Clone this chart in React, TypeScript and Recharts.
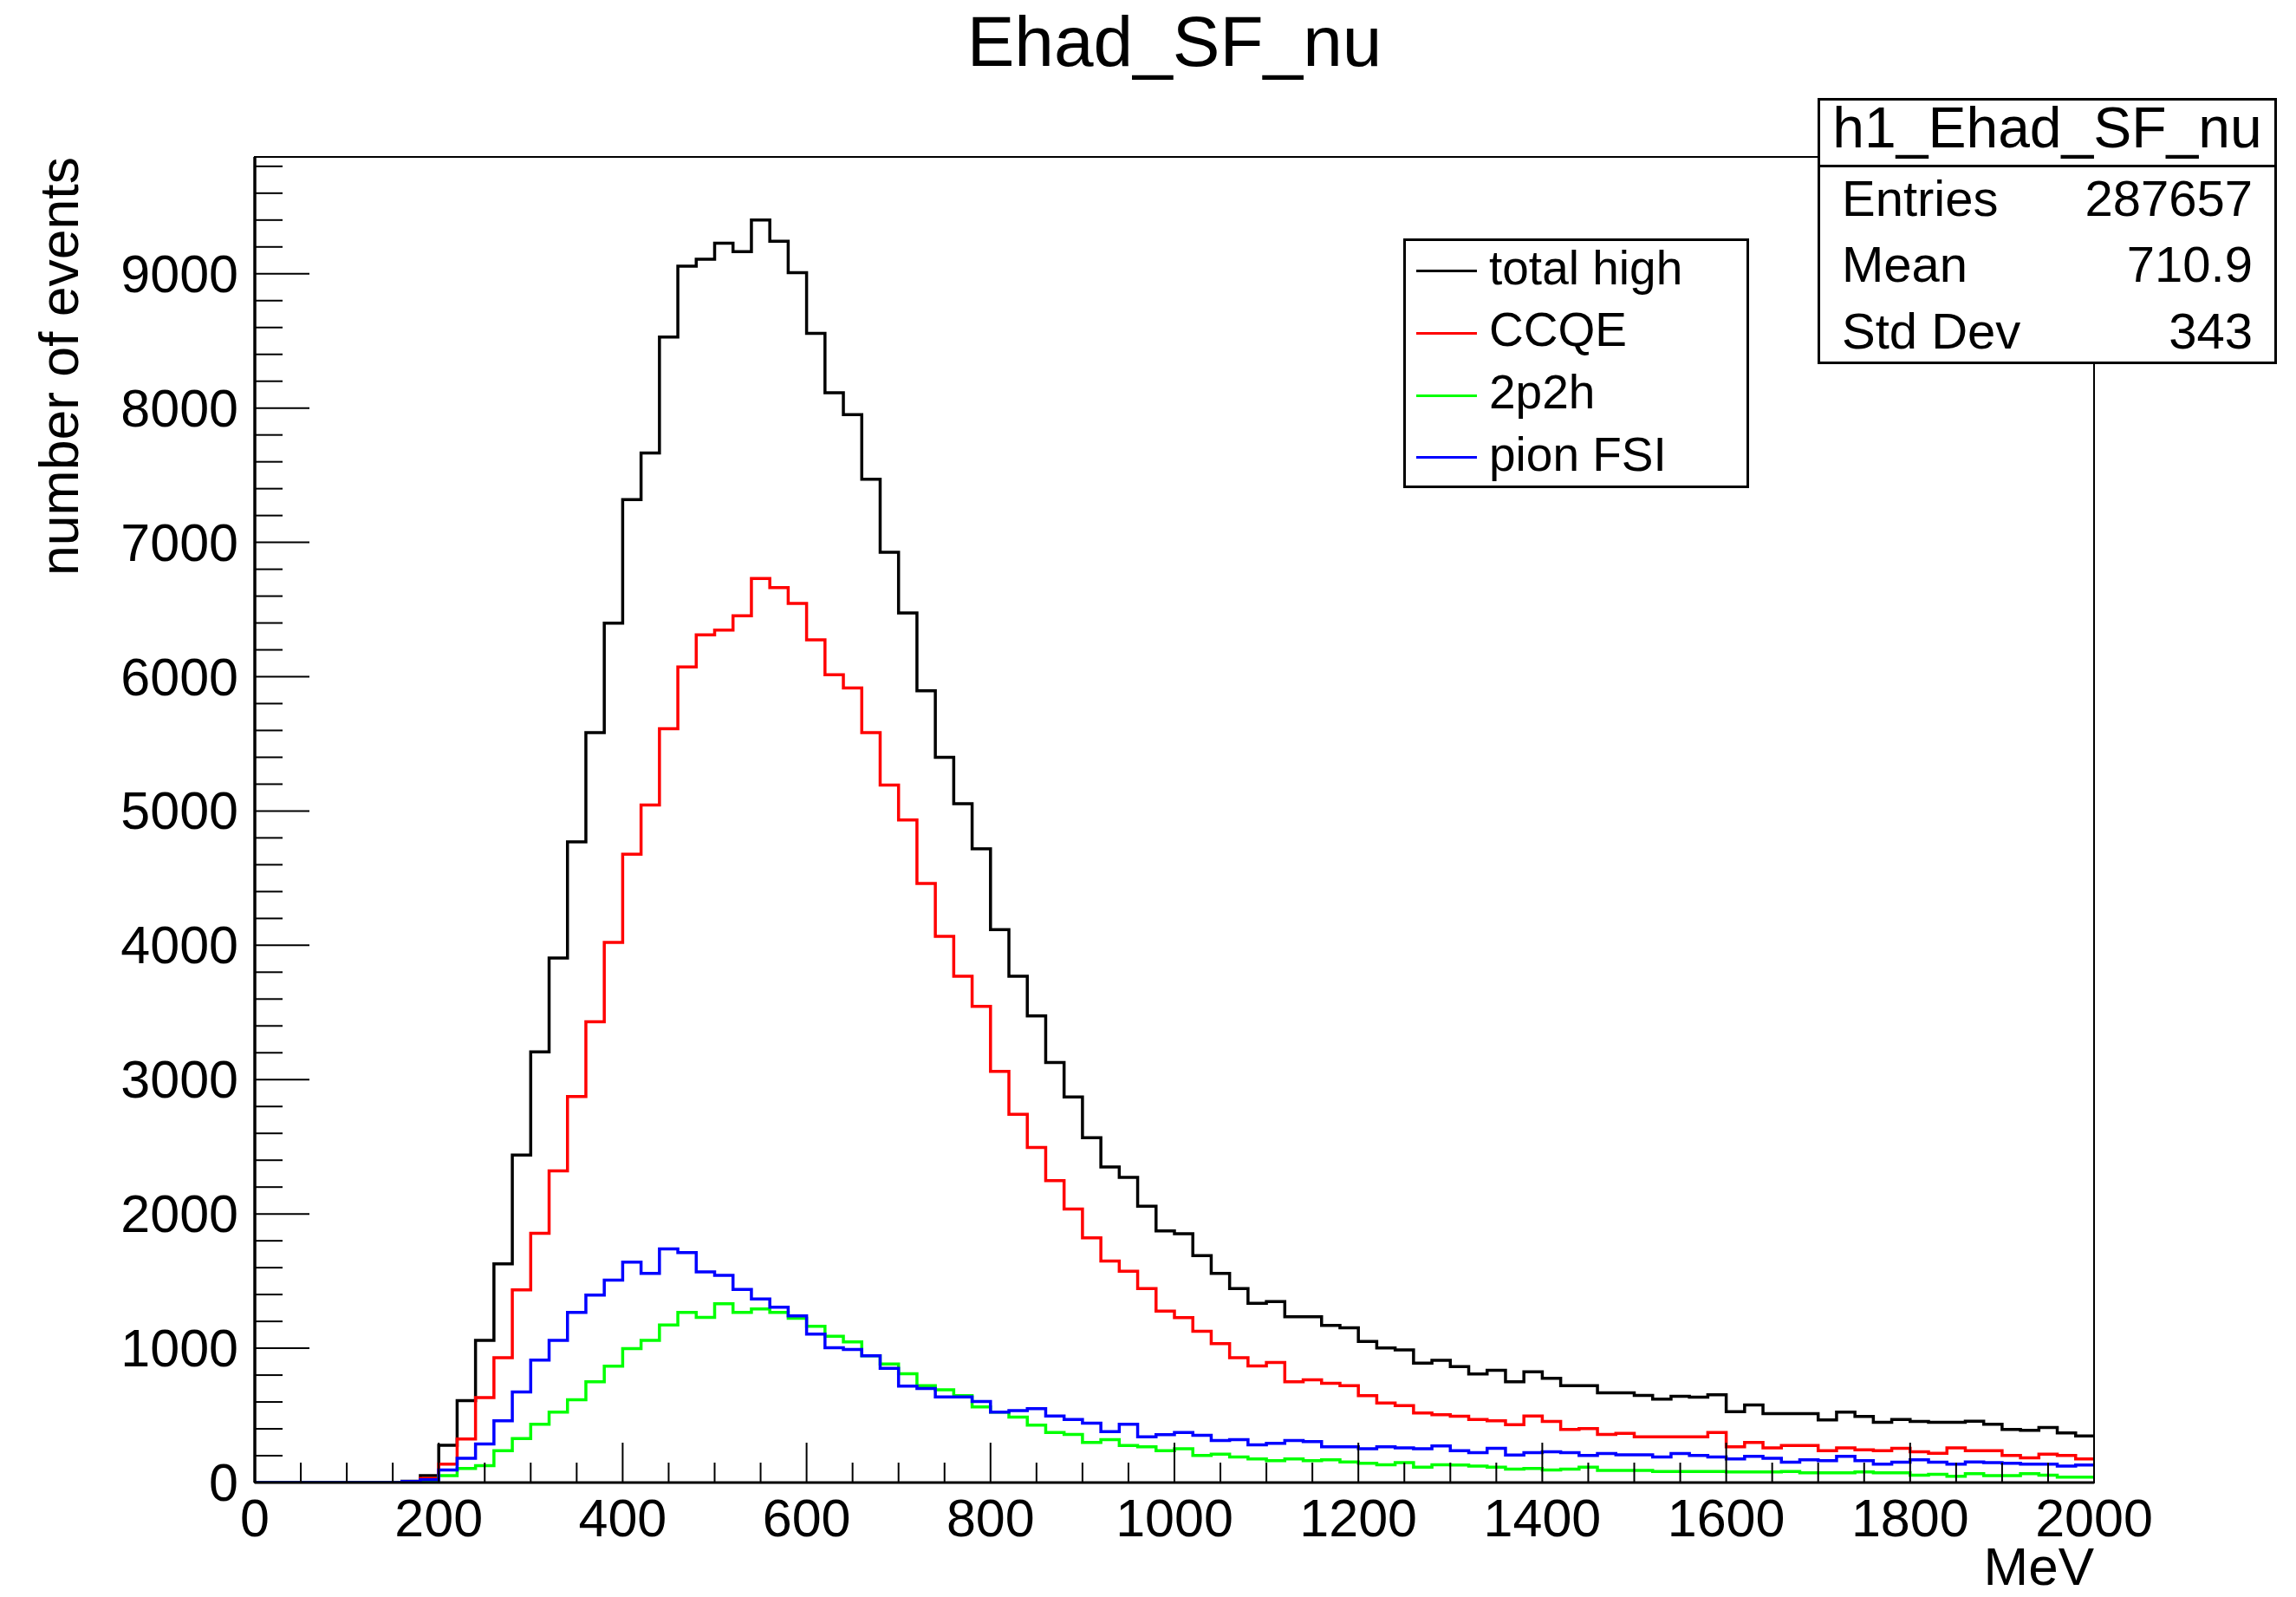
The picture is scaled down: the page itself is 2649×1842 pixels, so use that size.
import React from 'react';
import { LineChart, Line, XAxis, YAxis, Legend, ReferenceArea } from 'recharts';

const FONT = '"Liberation Sans", Arial, Helvetica, sans-serif';

// Histogram: 100 bins of 20 MeV from 0 to 2000 MeV (values per bin)
const totalHigh = [
  0, 0, 0, 0, 0, 0, 0, 0, 10, 51,
  277, 610, 1058, 1628, 2439, 3206, 3906, 4771, 5584, 6399,
  7318, 7666, 8529, 9056, 9108, 9228, 9164, 9401, 9243, 9009,
  8557, 8114, 7952, 7470, 6926, 6474, 5895, 5400, 5055, 4718,
  4116, 3770, 3474, 3128, 2871, 2568, 2350, 2272, 2058, 1874,
  1852, 1690, 1557, 1445, 1335, 1348, 1234, 1234, 1170, 1152,
  1051, 1002, 987, 890, 910, 863, 809, 836, 750, 825,
  776, 722, 722, 668, 668, 649, 621, 642, 636, 653,
  528, 578, 513, 513, 513, 466, 524, 492, 449, 470,
  455, 449, 449, 457, 434, 395, 389, 410, 369, 347,
];
const ccqe = [
  0, 0, 0, 0, 0, 0, 0, 0, 5, 30,
  137, 324, 632, 929, 1434, 1856, 2321, 2874, 3431, 4021,
  4678, 5044, 5612, 6073, 6312, 6347, 6454, 6731, 6663, 6545,
  6275, 6015, 5917, 5584, 5194, 4933, 4461, 4066, 3770, 3546,
  3062, 2742, 2495, 2248, 2036, 1822, 1650, 1574, 1445, 1277,
  1228, 1127, 1034, 929, 868, 894, 750, 765, 739, 722,
  647, 593, 573, 518, 505, 494, 470, 460, 431, 496,
  455, 395, 402, 358, 367, 341, 341, 341, 341, 373,
  266, 298, 259, 276, 276, 238, 259, 244, 238, 255,
  229, 218, 259, 238, 238, 201, 184, 212, 201, 176,
];
const twoP2h = [
  0, 0, 0, 0, 0, 0, 0, 0, 0, 8,
  51, 105, 126, 238, 328, 434, 524, 616, 750, 866,
  997, 1058, 1174, 1267, 1230, 1331, 1267, 1292, 1267, 1223,
  1163, 1090, 1047, 944, 883, 810, 722, 690, 647, 563,
  524, 487, 427, 373, 358, 298, 320, 276, 266, 238,
  251, 201, 212, 190, 176, 163, 176, 163, 170, 154,
  143, 132, 148, 115, 132, 130, 122, 115, 100, 105,
  94, 100, 115, 90, 90, 90, 83, 83, 83, 83,
  79, 79, 79, 83, 73, 73, 73, 79, 73, 73,
  55, 62, 47, 66, 51, 51, 66, 55, 40, 40,
];
const pionFSI = [
  0, 0, 0, 0, 0, 0, 0, 0, 8, 21,
  94, 180, 287, 460, 675, 912, 1058, 1267, 1396, 1507,
  1641, 1557, 1740, 1712, 1568, 1542, 1438, 1367, 1305, 1241,
  1105, 1004, 991, 944, 851, 718, 700, 638, 638, 604,
  524, 535, 550, 496, 470, 442, 380, 434, 341, 356,
  373, 352, 313, 320, 281, 292, 313, 305, 266, 266,
  251, 266, 259, 251, 272, 238, 223, 255, 205, 223,
  229, 223, 201, 216, 207, 207, 190, 216, 201, 190,
  176, 195, 180, 152, 170, 163, 195, 163, 137, 152,
  170, 152, 137, 154, 148, 143, 137, 137, 122, 130,
];

const BIN_WIDTH = 20;
const X_MAX = 2000;
const Y_MAX = 9870;

const seriesNames = ['total high', 'CCQE', '2p2h', 'pion FSI'];
const seriesColors = ['#000000', '#ff0000', '#00ff00', '#0000ff'];
const seriesKeys = ['total', 'ccqe', 'tp', 'pion'];

const xTicks = [
  0, 50, 100, 150, 200, 250, 300, 350, 400, 450, 500, 550, 600, 650, 700, 750,
  800, 850, 900, 950, 1000, 1050, 1100, 1150, 1200, 1250, 1300, 1350, 1400,
  1450, 1500, 1550, 1600, 1650, 1700, 1750, 1800, 1850, 1900, 1950, 2000,
];
const yTicks = [
  0, 200, 400, 600, 800, 1000, 1200, 1400, 1600, 1800, 2000, 2200, 2400, 2600,
  2800, 3000, 3200, 3400, 3600, 3800, 4000, 4200, 4400, 4600, 4800, 5000, 5200,
  5400, 5600, 5800, 6000, 6200, 6400, 6600, 6800, 7000, 7200, 7400, 7600, 7800,
  8000, 8200, 8400, 8600, 8800, 9000, 9200, 9400, 9600, 9800,
];

const stats = [
  ['Entries', '287657'],
  ['Mean', '710.9'],
  ['Std Dev', '343'],
];

const data = totalHigh.map((_, i) => ({
  x: i * BIN_WIDTH,
  total: totalHigh[i],
  ccqe: ccqe[i],
  tp: twoP2h[i],
  pion: pionFSI[i],
}));
data.push({
  x: X_MAX,
  total: totalHigh[totalHigh.length - 1],
  ccqe: ccqe[ccqe.length - 1],
  tp: twoP2h[twoP2h.length - 1],
  pion: pionFSI[pionFSI.length - 1],
});

const YTick = (props: any) => {
  const { x, y, payload } = props;
  const v = payload.value;
  const major = v % 1000 === 0;
  return (
    <g>
      <line x1={x} y1={y} x2={x + (major ? 63 : 32)} y2={y} stroke="#000" strokeWidth={2} />
      {major && (
        <text x={x - 19} y={y} textAnchor="end" dominantBaseline="central" fontSize={61} fontFamily={FONT} fill="#000">
          {v}
        </text>
      )}
    </g>
  );
};

const XTick = (props: any) => {
  const { x, y, payload } = props;
  const v = payload.value;
  const major = v % 200 === 0;
  return (
    <g>
      <line x1={x} y1={y} x2={x} y2={y - (major ? 46 : 23)} stroke="#000" strokeWidth={2} />
      {major && (
        <text x={x} y={y + 41} textAnchor="middle" dominantBaseline="central" fontSize={61} fontFamily={FONT} fill="#000">
          {v}
        </text>
      )}
    </g>
  );
};

const LegendBox = (props: any) => {
  const payload = (props.payload || []).slice().sort(
    (a: any, b: any) => seriesNames.indexOf(a.value) - seriesNames.indexOf(b.value)
  );
  return (
    <div
      style={{
        width: '100%',
        height: '100%',
        boxSizing: 'border-box',
        border: '3px solid #000',
        background: '#fff',
        position: 'relative',
      }}
    >
      {payload.map((p: any, i: number) => (
        <div
          key={p.value}
          style={{
            position: 'absolute',
            left: 12,
            top: 34.7 + i * 71.7 - 36,
            height: 72,
            display: 'flex',
            alignItems: 'center',
            whiteSpace: 'nowrap',
          }}
        >
          <span style={{ display: 'inline-block', width: 70, height: 3, background: p.color }} />
          <span
            style={{
              marginLeft: 14,
              fontSize: 55,
              fontFamily: FONT,
              color: '#000',
              lineHeight: '72px',
              position: 'relative',
              top: -4,
            }}
          >
            {p.value}
          </span>
        </div>
      ))}
    </div>
  );
};

export default function App() {
  return (
    <div style={{ position: 'absolute', left: 0, top: 0, width: 2649, height: 1842, background: '#fff', overflow: 'hidden' }}>
      <LineChart
        width={2649}
        height={1842}
        data={data}
        margin={{ top: 181, right: 233, left: 0, bottom: 0 }}
      >
        <ReferenceArea
          x1={0}
          x2={X_MAX}
          y1={0}
          y2={Y_MAX}
          fill="none"
          stroke="#000"
          strokeWidth={2}
          ifOverflow="visible"
        />
        <XAxis
          dataKey="x"
          type="number"
          domain={[0, X_MAX]}
          ticks={xTicks}
          interval={0}
          height={132}
          tickLine={false}
          tickSize={0}
          tickMargin={0}
          axisLine={{ stroke: '#000', strokeWidth: 3 }}
          tick={(p: any) => <XTick {...p} />}
          label={(p: any) => {
            const vb = p.viewBox || {};
            return (
              <text
                x={(vb.x || 0) + (vb.width || 0)}
                y={1828}
                textAnchor="end"
                fontSize={62}
                fontFamily={FONT}
                fill="#000"
              >
                MeV
              </text>
            );
          }}
        />
        <YAxis
          type="number"
          domain={[0, Y_MAX]}
          ticks={yTicks}
          interval={0}
          width={294}
          tickLine={false}
          tickSize={0}
          tickMargin={0}
          axisLine={{ stroke: '#000', strokeWidth: 3.5 }}
          tick={(p: any) => <YTick {...p} />}
          allowDataOverflow
          label={(p: any) => {
            const vb = p.viewBox || {};
            const ty = vb.y || 181;
            return (
              <text
                x={68}
                y={ty}
                transform={`rotate(-90, 68, ${ty})`}
                textAnchor="end"
                dominantBaseline="central"
                fontSize={62.5}
                fontFamily={FONT}
                fill="#000"
              >
                number of events
              </text>
            );
          }}
        />
        {seriesKeys.map((k, i) => (
          <Line
            key={k}
            type="stepAfter"
            dataKey={k}
            name={seriesNames[i]}
            stroke={seriesColors[i]}
            strokeWidth={3.5}
            strokeLinejoin="miter"
            strokeLinecap="butt"
            dot={false}
            activeDot={false}
            isAnimationActive={false}
          />
        ))}
        <Legend
          layout="vertical"
          align="center"
          verticalAlign="middle"
          content={(p: any) => <LegendBox {...p} />}
          wrapperStyle={{ position: 'absolute', left: 1619, top: 275, width: 399, height: 288, margin: 0, padding: 0 }}
        />
      </LineChart>

      <div
        style={{
          position: 'absolute',
          left: 855,
          top: 7,
          width: 1000,
          textAlign: 'center',
          fontFamily: FONT,
          fontSize: 82,
          lineHeight: '82px',
          color: '#000',
        }}
      >
        Ehad_SF_nu
      </div>

      <div
        style={{
          position: 'absolute',
          left: 2097,
          top: 113,
          width: 530,
          height: 307,
          boxSizing: 'border-box',
          border: '3px solid #000',
          background: '#fff',
          fontFamily: FONT,
          color: '#000',
        }}
      >
        <div
          style={{
            height: 74,
            borderBottom: '3px solid #000',
            textAlign: 'center',
            fontSize: 66,
            lineHeight: '62px',
            whiteSpace: 'nowrap',
          }}
        >
          h1_Ehad_SF_nu
        </div>
        {stats.map(([k, v], i) => (
          <div
            key={k}
            style={{
              position: 'absolute',
              left: 25,
              right: 25,
              top: 73.7 + 76.7 * i,
              height: 77,
              display: 'flex',
              justifyContent: 'space-between',
              alignItems: 'flex-start',
              fontSize: 58,
              lineHeight: '77px',
              whiteSpace: 'nowrap',
            }}
          >
            <span>{k}</span>
            <span>{v}</span>
          </div>
        ))}
      </div>
    </div>
  );
}
